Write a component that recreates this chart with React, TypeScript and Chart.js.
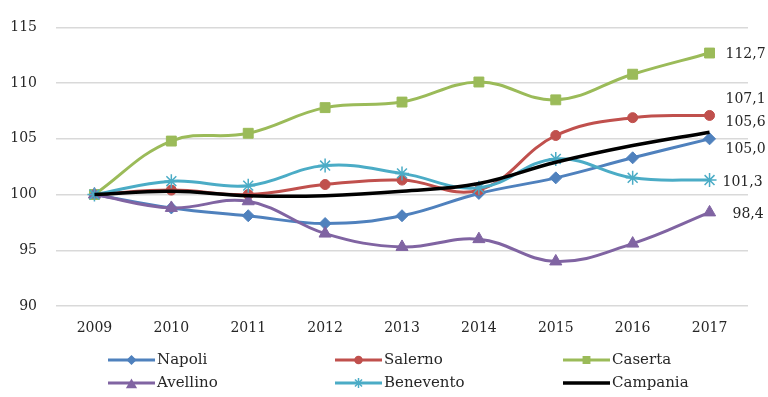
import React, { useEffect, useRef } from "react";
import { Chart, registerables } from "chart.js";
import { drawPoint } from "chart.js/helpers";

Chart.register(...registerables);

const years = ["2009", "2010", "2011", "2012", "2013", "2014", "2015", "2016", "2017"];
const napoli = [100, 98.8, 98.1, 97.4, 98.1, 100.1, 101.5, 103.3, 105.0];
const salerno = [100, 100.4, 100.0, 100.9, 101.3, 100.4, 105.3, 106.9, 107.1];
const caserta = [100, 104.8, 105.5, 107.8, 108.3, 110.1, 108.5, 110.8, 112.7];
const avellino = [100, 98.8, 99.4, 96.5, 95.3, 96.0, 94.0, 95.6, 98.4];
const benevento = [100, 101.2, 100.8, 102.6, 101.9, 100.6, 103.2, 101.5, 101.3];
const campania = [100, 100.3, 99.9, 99.9, 100.3, 101.0, 102.9, 104.4, 105.6];
const yMin = 90;
const yMax = 115;
const yStep = 5;

const FONT = '"DejaVu Serif", serif';
const TEXT = "#262626";

const overlayPlugin = {
  id: "overlay",
  afterDatasetsDraw(chart: any) {
    const ctx = chart.ctx;
    ctx.save();
    // end-of-line value labels
    ctx.font = `14px ${FONT}`;
    ctx.fillStyle = TEXT;
    ctx.textBaseline = "middle";
    ctx.textAlign = "left";
    chart.data.datasets.forEach((ds: any, i: number) => {
      const meta = chart.getDatasetMeta(i);
      const pt = meta.data[meta.data.length - 1];
      const v = ds.data[ds.data.length - 1];
      ctx.fillText(v.toFixed(1).replace(".", ","), pt.x + ds.labelDx, pt.y + ds.labelDy);
    });
    // legend (3 columns x 2 rows)
    const colX = [108, 335, 563];
    const rowY = [360, 383];
    const lineLen = 47;
    chart.data.datasets.forEach((ds: any, i: number) => {
      const x0 = colX[i % 3];
      const y = rowY[Math.floor(i / 3)];
      ctx.strokeStyle = ds.borderColor;
      ctx.lineWidth = ds.borderWidth;
      ctx.beginPath();
      ctx.moveTo(x0, y);
      ctx.lineTo(x0 + lineLen, y);
      ctx.stroke();
      if (ds.pointRadius > 0) {
        ctx.fillStyle = ds.backgroundColor;
        ctx.strokeStyle = ds.borderColor;
        ctx.lineWidth = 1.5;
        drawPoint(
          ctx,
          { pointStyle: ds.pointStyle, radius: ds.legendRadius, borderWidth: 1.5, rotation: 0 } as any,
          x0 + lineLen / 2,
          y + (ds.pointStyle === "triangle" ? 2 : 0)
        );
      }
      ctx.fillStyle = TEXT;
      ctx.font = `15px ${FONT}`;
      ctx.textBaseline = "middle";
      ctx.textAlign = "left";
      ctx.fillText(ds.label, x0 + lineLen + 2, y);
    });
    ctx.restore();
  },
};

export default function App() {
  const ref = useRef<HTMLCanvasElement | null>(null);

  useEffect(() => {
    if (!ref.current) return;
    const mk = (
      label: string,
      data: number[],
      color: string,
      pointStyle: any,
      pointRadius: number,
      order: number,
      labelDx: number,
      labelDy: number,
      legendRadius: number,
      borderWidth = 3
    ) => ({
      label,
      data,
      borderColor: color,
      backgroundColor: color,
      pointBackgroundColor: color,
      pointBorderColor: color,
      pointBorderWidth: pointStyle === "star" ? 1.5 : 1,
      pointStyle,
      pointRadius,
      pointHoverRadius: pointRadius,
      borderWidth,
      tension: 0.4,
      fill: false,
      order,
      labelDx,
      labelDy,
      legendRadius,
    });

    const chart = new Chart(ref.current, {
      type: "line",
      data: {
        labels: years,
        datasets: [
          mk("Napoli", napoli, "#4F81BD", "rectRot", 6, 6, 16, 11, 4),
          mk("Salerno", salerno, "#C0504D", "circle", 5, 5, 16, -16, 3.5),
          mk("Caserta", caserta, "#9BBB59", "rect", 7, 4, 16, 1, 4.5),
          mk("Avellino", avellino, "#8064A2", "triangle", 7, 3, 23, 2, 5),
          mk("Benevento", benevento, "#4BACC6", "star", 7, 2, 13, 2, 5),
          mk("Campania", campania, "#000000", "circle", 0, 1, 16, -10, 0, 3.5),
        ] as any,
      },
      options: {
        animation: false,
        responsive: false,
        maintainAspectRatio: false,
        layout: { padding: { top: 23, right: 20, left: 0, bottom: 0 } },
        plugins: {
          legend: { display: false },
          tooltip: { enabled: false },
        },
        scales: {
          x: {
            type: "category",
            offset: true,
            grid: { display: false, drawTicks: false },
            border: { display: false },
            ticks: {
              color: TEXT,
              font: { family: FONT, size: 14 },
              padding: 14,
              maxRotation: 0,
            },
            afterFit(scale: any) {
              scale.height = 91;
            },
          },
          y: {
            min: yMin,
            max: yMax,
            grid: { color: "#d9d9d9", lineWidth: 1.5, drawTicks: false },
            border: { display: false },
            ticks: {
              stepSize: yStep,
              color: TEXT,
              font: { family: FONT, size: 14 },
              padding: 19,
            },
            afterFit(scale: any) {
              scale.width = 56;
            },
          },
        },
      } as any,
      plugins: [overlayPlugin],
    });
    return () => chart.destroy();
  }, []);

  return (
    <div style={{ position: "fixed", left: 0, top: 0, width: 768, height: 397, background: "#fff" }}>
      <canvas ref={ref} width={768} height={397} style={{ display: "block" }} />
    </div>
  );
}
